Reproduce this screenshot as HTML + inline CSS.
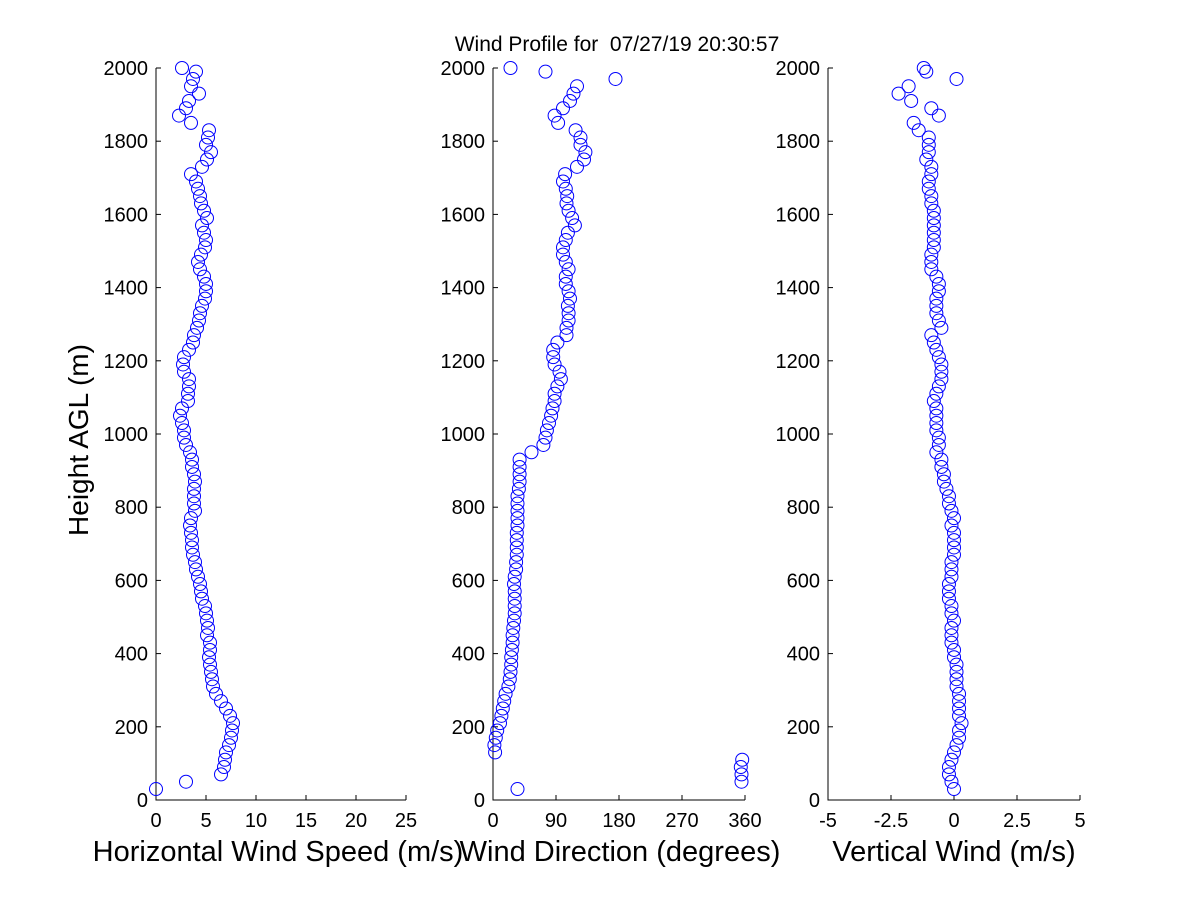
<!DOCTYPE html>
<html><head><meta charset="utf-8"><style>
html,body{margin:0;padding:0;background:#fff;}
svg{display:block;font-family:"Liberation Sans",sans-serif;}
</style></head><body>
<svg id="chart" width="1200" height="900" viewBox="0 0 1200 900">
<rect width="1200" height="900" fill="#fff"/>
<text x="617" y="51" font-size="21" text-anchor="middle" xml:space="preserve">Wind Profile for  07/27/19 20:30:57</text>
<text transform="translate(88,440) rotate(-90)" font-size="28" text-anchor="middle">Height AGL (m)</text>
</svg>
<script>
const heights=[30,50,70,90,110,130,150,170,190,210,230,250,270,290,310,330,350,370,390,410,430,450,470,490,510,530,550,570,590,610,630,650,670,690,710,730,750,770,790,810,830,850,870,890,910,930,950,970,990,1010,1030,1050,1070,1090,1110,1130,1150,1170,1190,1210,1230,1250,1270,1290,1310,1330,1350,1370,1390,1410,1430,1450,1470,1490,1510,1530,1550,1570,1590,1610,1630,1650,1670,1690,1710,1730,1750,1770,1790,1810,1830,1850,1870,1890,1910,1930,1950,1970,1990,2000];
const speed=[0,3,6.5,6.8,6.9,7.0,7.3,7.5,7.6,7.7,7.4,7.0,6.5,6.0,5.7,5.6,5.5,5.4,5.3,5.4,5.4,5.1,5.2,5.1,5.0,4.9,4.6,4.5,4.4,4.2,4.0,3.9,3.7,3.6,3.6,3.5,3.4,3.5,3.9,3.8,3.8,3.8,3.9,3.8,3.6,3.6,3.4,3.0,2.8,2.8,2.6,2.4,2.6,3.2,3.2,3.3,3.3,2.8,2.7,2.8,3.3,3.7,3.8,4.1,4.3,4.4,4.6,4.9,5.0,5.0,4.8,4.4,4.2,4.5,4.9,5.0,4.8,4.6,5.1,4.8,4.5,4.4,4.2,4.0,3.5,4.6,5.1,5.5,5.0,5.2,5.3,3.5,2.3,3.0,3.3,4.3,3.5,3.7,4.0,2.6];
const direction=[35,355,355,354,356,3,2,4,6,10,12,14,16,18,22,24,25,26,26,27,28,28,29,30,31,31,31,31,30,31,33,33,34,34,34,34,35,35,35,35,35,37,38,38,38,38,55,72,75,77,80,83,85,88,88,92,97,95,88,86,86,92,105,105,108,108,107,110,108,104,104,108,104,100,100,104,107,117,113,108,105,106,104,100,103,120,130,132,125,125,118,93,88,100,110,115,120,175,75,25];
const vertical=[0,-0.1,-0.2,-0.2,-0.1,0,0.1,0.2,0.2,0.3,0.2,0.2,0.2,0.2,0.1,0.1,0.1,0.1,0,0,-0.1,-0.1,-0.1,0,-0.1,-0.1,-0.2,-0.2,-0.2,-0.1,-0.1,-0.1,0,0,0,0,-0.1,0,-0.1,-0.2,-0.2,-0.3,-0.4,-0.4,-0.5,-0.5,-0.7,-0.6,-0.6,-0.7,-0.7,-0.7,-0.7,-0.8,-0.7,-0.6,-0.5,-0.5,-0.5,-0.6,-0.7,-0.8,-0.9,-0.5,-0.6,-0.7,-0.7,-0.7,-0.6,-0.6,-0.7,-0.9,-0.9,-0.9,-0.8,-0.8,-0.8,-0.8,-0.8,-0.8,-0.9,-0.9,-1.0,-1.0,-0.9,-0.9,-1.1,-1.0,-1.0,-1.0,-1.4,-1.6,-0.6,-0.9,-1.7,-2.2,-1.8,0.1,-1.1,-1.2];
const yTicks=[0,200,400,600,800,1000,1200,1400,1600,1800,2000];
const speedTicks=[0,5,10,15,20,25];
const dirTicks=[0,90,180,270,360];
const vertTicks=[-5,-2.5,0,2.5,5];
const vertTickLabels=["-5","-2.5","0","2.5","5"];

const NS="http://www.w3.org/2000/svg";
const svg=document.getElementById('chart');
const Y0=800,Y1=68,H0=0,H1=2000;
function yS(h){return Y0-(h-H0)/(H1-H0)*(Y0-Y1);}
function mk(t,a,p){const e=document.createElementNS(NS,t);for(const k in a)e.setAttribute(k,a[k]);(p||svg).appendChild(e);return e;}

const panels=[
 {name:'speed',x0:156,x1:406,min:0,max:25,vals:speed,ticks:speedTicks,labels:speedTicks.map(String),title:'Horizontal Wind Speed (m/s)',tx:278},
 {name:'direction',x0:493,x1:745,min:0,max:360,vals:direction,ticks:dirTicks,labels:dirTicks.map(String),title:'Wind Direction (degrees)',tx:620},
 {name:'vertical',x0:828,x1:1080,min:-5,max:5,vals:vertical,ticks:vertTicks,labels:vertTickLabels,title:'Vertical Wind (m/s)',tx:954}
];
panels.forEach(p=>{
 const g=mk('g',{});
 
 
 const xS=v=>p.x0+(v-p.min)/(p.max-p.min)*(p.x1-p.x0);
 const ax=mk('path',{d:`M${p.x0},${Y1}V${Y0}H${p.x1}`,stroke:'#000',fill:'none','stroke-width':1},g);
 
 
 yTicks.forEach(t=>{
  const y=yS(t);
  const tk=mk('line',{x1:p.x0,x2:p.x0+5,y1:y,y2:y,stroke:'#000'},g);
  
  
  const tx=mk('text',{x:p.x0-8,y:y+7,'font-size':20,'text-anchor':'end'},g);
  tx.textContent=t;
  
  
 });
 p.ticks.forEach((t,i)=>{
  const x=xS(t);
  const tk=mk('line',{x1:x,x2:x,y1:Y0,y2:Y0-5,stroke:'#000'},g);
  
  
  const tx=mk('text',{x:x,y:Y0+27,'font-size':20,'text-anchor':'middle'},g);
  tx.textContent=p.labels[i];
  
  
 });
 heights.forEach((h,i)=>{
  const c=mk('circle',{cx:xS(p.vals[i]),cy:yS(h),r:6.5,fill:'none',stroke:'#0000ff','stroke-width':1},g);
  
  
 });
 const tl=mk('text',{x:p.tx,y:861,'font-size':29,'text-anchor':'middle'},g);
 tl.textContent=p.title;
 
 
});
</script>
</body></html>
